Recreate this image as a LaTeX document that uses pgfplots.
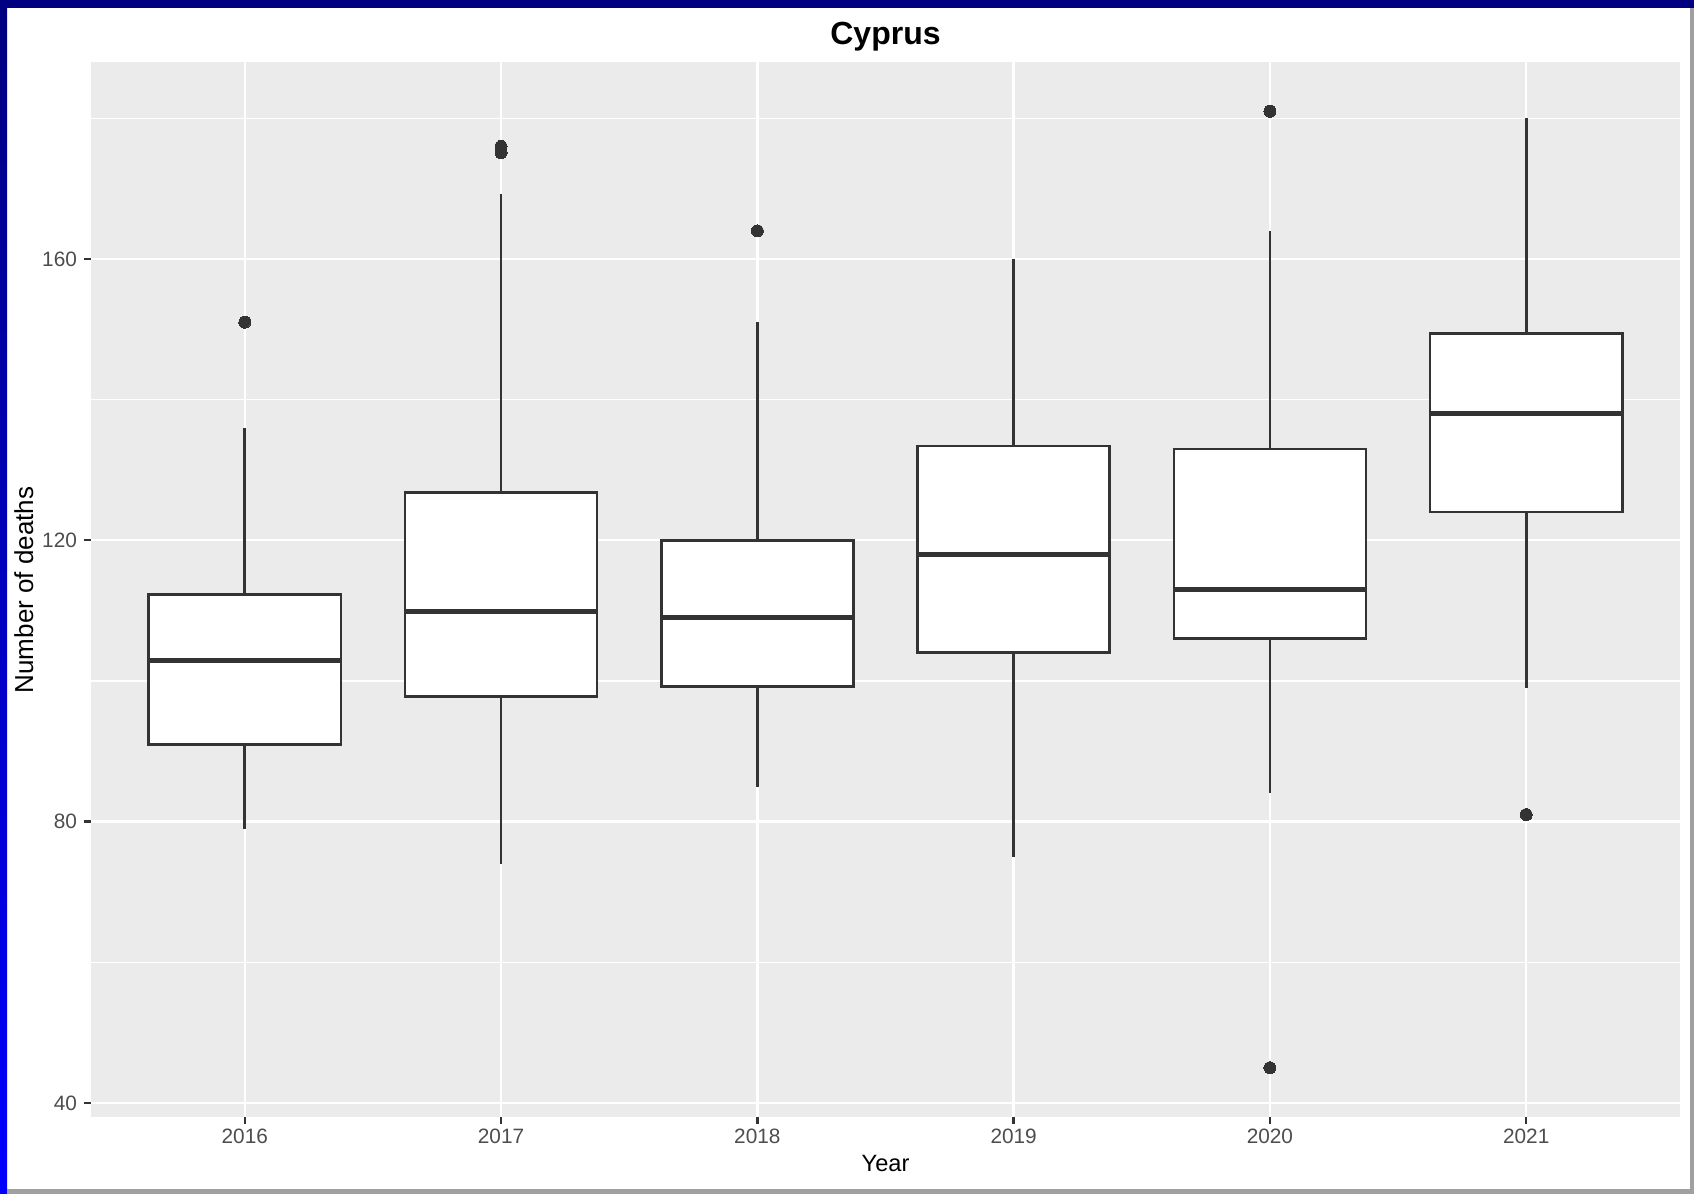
\documentclass[border=0pt]{standalone}
\usepackage{fontspec}
\setmainfont{Liberation Sans}
\usepackage{pgfplots}
\pgfplotsset{compat=1.18}
\usepgfplotslibrary{statistics}
\definecolor{panelbg}{HTML}{EBEBEB}
\definecolor{gdark}{HTML}{333333}
\definecolor{gtick}{HTML}{4D4D4D}
\definecolor{navyb}{HTML}{000080}
\definecolor{blueb}{HTML}{0000FF}
\definecolor{greyb}{HTML}{A0A0A0}
\pgfplotsset{
  ggbox/.style={draw=gdark, fill=white, line width=1.3pt, mark=*, mark size=3pt,
    mark options={fill=gdark, draw=gdark, line width=0pt},
    boxplot/box extend=0.75, boxplot/whisker extend=0,
    boxplot/every median/.style={line width=2.6pt}},
}
\begin{document}
\begin{tikzpicture}[x=1pt,y=1pt]
\fill[white] (0,0) rectangle (847,597);
\fill[navyb] (0,593) rectangle (847,597);
\shade[top color=navyb,bottom color=blueb] (0,0) rectangle (3.5,593);
\fill[greyb] (844.8,0) rectangle (847,593);
\fill[greyb] (3.5,0) rectangle (847,2.3);
\begin{axis}[
  at={(45.5pt,38.5pt)}, anchor=south west, scale only axis,
  width=794.5pt, height=527.5pt,
  xmin=0.4, xmax=6.6, ymin=38, ymax=188,
  axis background/.style={fill=panelbg},
  axis line style={draw=none},
  xtick={1,2,3,4,5,6}, xticklabels={2016,2017,2018,2019,2020,2021},
  ytick={40,80,120,160}, minor ytick={60,100,140,180},
  grid=both,
  major grid style={white, line width=1.2pt},
  minor grid style={white, line width=0.6pt},
  tick align=outside, major tick length=3.5pt, minor tick length=0pt,
  tick style={gdark, line width=1.2pt},
  xtick pos=left, ytick pos=left,
  ticklabel style={font=\fontsize{10.4}{12}\selectfont, text=gtick},
  xticklabel style={yshift=1pt},
  /pgf/number format/assume math mode=true,
  boxplot/draw direction=y,
]
\addplot[ggbox, boxplot prepared={draw position=1, lower whisker=79, lower quartile=91, median=102.9, upper quartile=112.3, upper whisker=136}] coordinates {(0,151)};
\addplot[ggbox, boxplot prepared={draw position=2, lower whisker=74, lower quartile=97.8, median=109.9, upper quartile=126.8, upper whisker=169.2}] coordinates {(0,176) (0,175.1)};
\addplot[ggbox, boxplot prepared={draw position=3, lower whisker=84.9, lower quartile=99.2, median=109, upper quartile=120, upper whisker=151}] coordinates {(0,164)};
\addplot[ggbox, boxplot prepared={draw position=4, lower whisker=75, lower quartile=104, median=118, upper quartile=133.4, upper whisker=160}] coordinates {};
\addplot[ggbox, boxplot prepared={draw position=5, lower whisker=84, lower quartile=106, median=113, upper quartile=133, upper whisker=164}] coordinates {(0,181) (0,45)};
\addplot[ggbox, boxplot prepared={draw position=6, lower whisker=99, lower quartile=124, median=138, upper quartile=149.4, upper whisker=180}] coordinates {(0,81)};
\end{axis}
\node[font=\bfseries\fontsize{16}{19}\selectfont, text=black] at (442.75,578.6) {Cyprus};
\node[font=\fontsize{11.8}{14}\selectfont, text=black] at (442.75,15.25) {Year};
\node[rotate=90, font=\fontsize{13}{15}\selectfont, text=black] at (11.9,302) {Number of deaths};
\end{tikzpicture}
\end{document}
